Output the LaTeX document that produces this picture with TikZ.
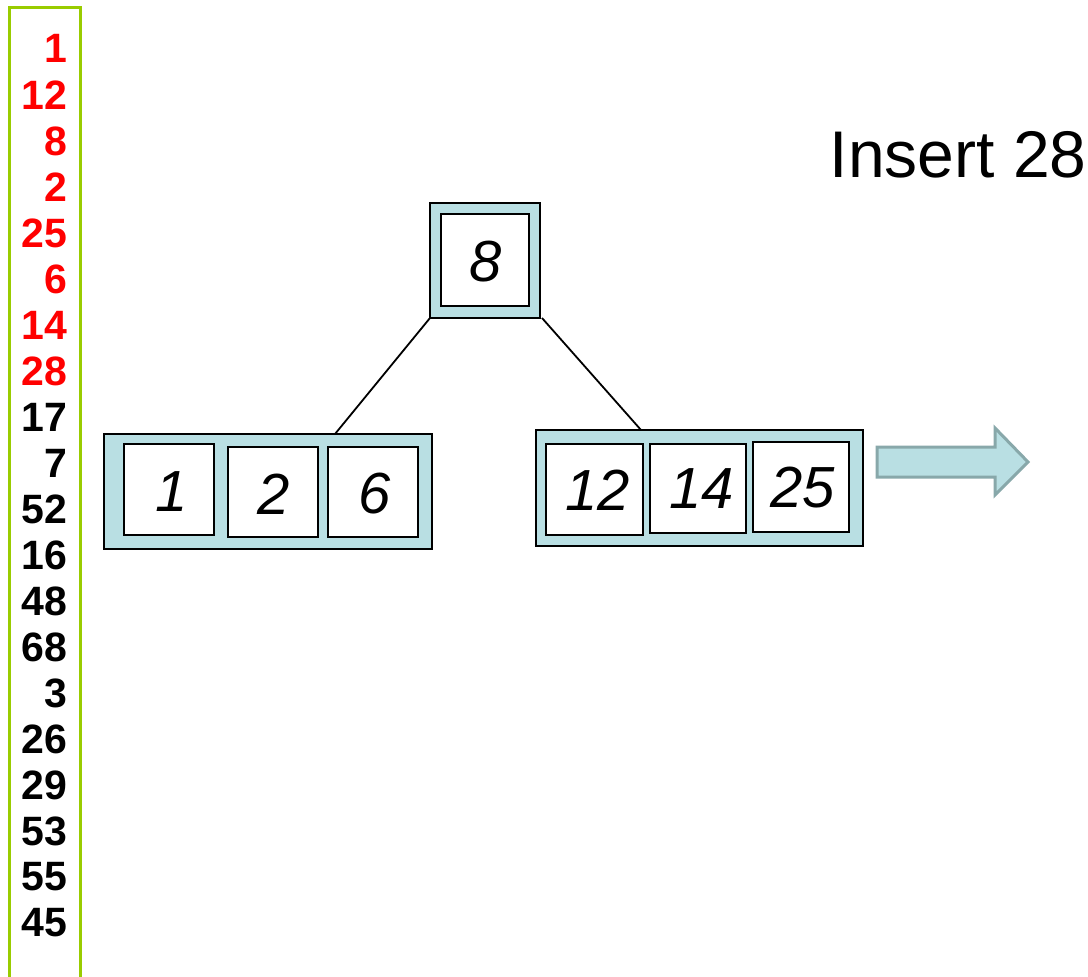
\documentclass[tikz,border=0pt]{standalone}
\usepackage{fontspec}
\setmainfont{Liberation Sans}
\definecolor{nodefill}{HTML}{B9DFE3}
\definecolor{frame}{HTML}{99CC00}
\definecolor{arrowline}{HTML}{88A8AA}
\definecolor{seqred}{HTML}{FF0000}
\begin{document}
\begin{tikzpicture}[x=1pt,y=-1pt,
  outerbox/.style={draw=black,line width=2pt,fill=nodefill},
  innerbox/.style={draw=black,line width=2pt,fill=white},
  key/.style={font=\fontsize{58}{64}\selectfont\itshape},
  seqnum/.style={anchor=east,font=\fontsize{41}{44}\selectfont\bfseries},
  edge/.style={draw=black,line width=1.8pt}]
\useasboundingbox (0,0) rectangle (1088,977);
\fill[white] (0,0) rectangle (1088,977);
% sequence frame
\draw[frame,line width=3pt] (9,990) -- (9,7) -- (80,7) -- (80,990);
\foreach \v/\y/\c in {1/48/seqred,12/95/seqred,8/141/seqred,2/187/seqred,25/233/seqred,6/279/seqred,14/325/seqred,28/371/seqred,
  17/417/black,7/463/black,52/509/black,16/555/black,48/601/black,68/647/black,3/693/black,26/739/black,29/785/black,53/831/black,55/877/black,45/923/black}
  \node[seqnum,text=\c] (s\v) at (71,\y) {\v};
% title
\node[font=\fontsize{66}{72}\selectfont,anchor=east] (title) at (1090,155) {Insert 28};
% root
\path[outerbox] (430,203) rectangle (540,318);
\coordinate (rootbl) at (430,318);
\coordinate (rootbr) at (542,318);
\path[innerbox] (441,214) rectangle (529,306);
\node[key] (r8) at (486,262) {8};
% left leaf
\path[outerbox] (104,434) rectangle (432,549);
\coordinate (lefttop) at (335,434);
\path[innerbox] (124,444) rectangle (214,535);
\path[innerbox] (228,447) rectangle (318,537);
\path[innerbox] (328,447) rectangle (418,537);
\node[key] (l1) at (172,492) {1};
\node[key] (l2) at (274,494) {2};
\node[key] (l6) at (375,494) {6};
% right leaf
\path[outerbox] (536,430) rectangle (863,546);
\coordinate (righttop) at (641,430);
\path[innerbox] (546,444) rectangle (643,535);
\path[innerbox] (650,444) rectangle (746,533);
\path[innerbox] (753,442) rectangle (849,532);
\node[key] (r12) at (598,490) {12};
\node[key] (r14) at (702,489) {14};
\node[key] (r25) at (803,488) {25};
% edges
\draw[edge] (rootbl) -- (lefttop);
\draw[edge] (rootbr) -- (righttop);
% block arrow
\draw[arrowline,fill=nodefill,line width=3pt,line join=miter]
  (877,447) -- (995,447) -- (995,428) -- (1028,462) -- (995,495) -- (995,477) -- (877,477) -- cycle;
\end{tikzpicture}
\end{document}
